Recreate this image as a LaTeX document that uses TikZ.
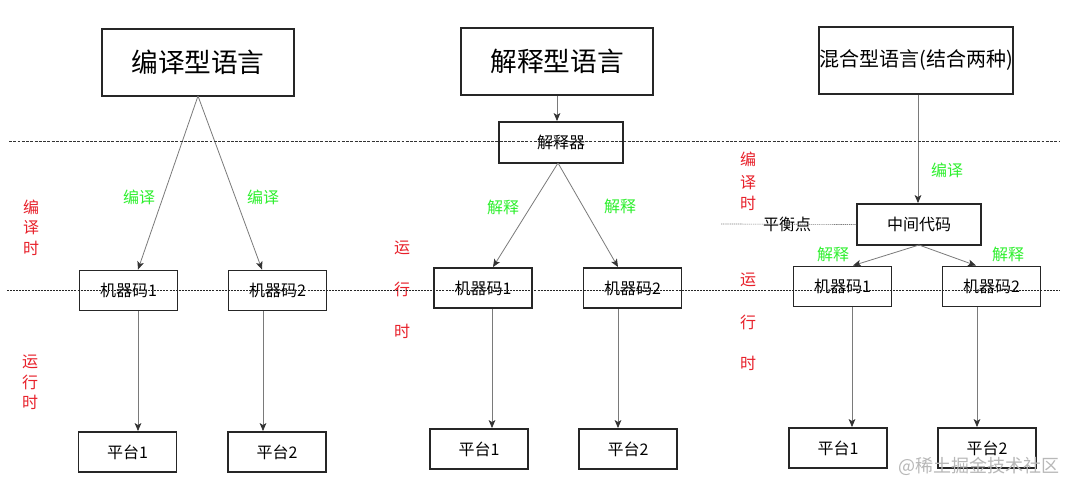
\documentclass[tikz,border=0pt]{standalone}
\usepackage{fontspec}
\setmainfont{Noto Sans CJK SC}
\usetikzlibrary{arrows.meta,calc}
\definecolor{lblgreen}{HTML}{2EF02E}
\definecolor{lblred}{HTML}{E8202A}
\definecolor{arrgray}{HTML}{7A7A7A}
\tikzset{
  bigbox/.style={draw=black!85, line width=1.5pt, minimum width=192*0.75pt, minimum height=67*0.75pt, inner sep=0pt, font=\fontsize{20}{22}\selectfont},
  smallbox/.style={draw=black!85, line width=1.4pt, minimum width=98*0.75pt, minimum height=40*0.75pt, inner sep=0pt, font=\fontsize{12}{14}\selectfont},
  midbox/.style={draw=black!85, line width=1.4pt, minimum width=124*0.75pt, minimum height=41*0.75pt, inner sep=0pt, font=\fontsize{12}{14}\selectfont},
  conn/.style={draw=arrgray, line width=0.6pt, -{Stealth[length=6pt,width=5pt,inset=1.5pt,color=black!80]}},
  glabel/.style={text=lblgreen, font=\fontsize{12}{14}\selectfont, inner sep=0pt},
  rlabel/.style={text=lblred, font=\fontsize{12}{14}\selectfont, inner sep=0pt},
  plabel/.style={text=black, font=\fontsize{12}{14}\selectfont, inner sep=0pt},
  coarsedash/.style={draw=black!80, line width=0.7pt, dash pattern=on 2.2pt off 1pt},
  finedash/.style={draw=black!85, line width=0.5pt, dash pattern=on 1.5pt off 0.8pt},
  balline/.style={draw=black!50, line width=0.5pt, dash pattern=on 1pt off 0.6pt},
}
\begin{document}
\begin{tikzpicture}[x=0.75pt,y=-0.75pt]
\useasboundingbox (0,0) rectangle (1076,493);
\fill[white] (0,0) rectangle (1076,493);

% ---------- column 1: compiled ----------
\node[bigbox] (c1) at (198,62) {编译型语言};
\node[smallbox] (c1m1) at (128.5,290.5) {机器码1};
\node[smallbox] (c1m2) at (277.5,290.5) {机器码2};
\node[smallbox] (c1p1) at (127.5,452) {平台1};
\node[smallbox] (c1p2) at (277,452) {平台2};
\coordinate (c1top) at (198,96);
\draw[conn] (c1top) -- ($(c1m1.north)+(9.5,0)$);
\draw[conn] (c1top) -- ($(c1m2.north)+(-15.5,0)$);
\draw[conn] ($(c1m1.south)+(9.5,0)$) -- ($(c1p1.north)+(10.5,0)$);
\draw[conn] ($(c1m2.south)+(-14.5,0)$) -- ($(c1p2.north)+(-14,0)$);
\node[glabel] (c1l1) at (139,197) {编译};
\node[glabel] (c1l2) at (263,197) {编译};
\node[rlabel] (c1r1) at (31,207) {编};
\node[rlabel] (c1r2) at (31,228) {译};
\node[rlabel] (c1r3) at (31,248) {时};
\node[rlabel] (c1r4) at (30,362) {运};
\node[rlabel] (c1r5) at (30,382) {行};
\node[rlabel] (c1r6) at (30,402) {时};

% ---------- column 2: interpreted ----------
\node[bigbox] (c2) at (557,61.5) {解释型语言};
\node[midbox] (c2i) at (561,142.5) {解释器};
\node[smallbox] (c2m1) at (483,288) {机器码1};
\node[smallbox] (c2m2) at (632.5,288) {机器码2};
\node[smallbox] (c2p1) at (479,449) {平台1};
\node[smallbox] (c2p2) at (628,449) {平台2};
\draw[conn] (c2.south) -- ($(c2i.north)+(-4,0)$);
\coordinate (c2itop) at (558,163);
\draw[conn] (c2itop) -- ($(c2m1.north)+(10,0)$);
\draw[conn] (c2itop) -- ($(c2m2.north)+(-14.5,0)$);
\draw[conn] ($(c2m1.south)+(9,0)$) -- ($(c2p1.north)+(13,0)$);
\draw[conn] ($(c2m2.south)+(-14.5,0)$) -- ($(c2p2.north)+(-10,0)$);
\node[glabel] (c2l1) at (503,207) {解释};
\node[glabel] (c2l2) at (620,206) {解释};
\node[rlabel] (c2r1) at (402,248) {运};
\node[rlabel] (c2r2) at (402,289) {行};
\node[rlabel] (c2r3) at (402,331) {时};

% ---------- column 3: hybrid ----------
\node[bigbox, font=\fontsize{15}{17}\selectfont] (c3) at (916,60) {混合型语言(结合两种)};
\node[midbox] (c3mid) at (919,224.5) {中间代码};
\node[smallbox] (c3m1) at (842.5,286.5) {机器码1};
\node[smallbox] (c3m2) at (991.5,286.5) {机器码2};
\node[smallbox] (c3p1) at (838,448) {平台1};
\node[smallbox] (c3p2) at (987,448) {平台2};
\draw[conn] ($(c3.south)+(2,0)$) -- ($(c3mid.north)+(-1,0)$);
\coordinate (c3midbot) at (919,245);
\draw[conn] (c3midbot) -- ($(c3m1.north)+(10.5,0)$);
\draw[conn] (c3midbot) -- ($(c3m2.north)+(-15.5,0)$);
\draw[conn] ($(c3m1.south)+(9.5,0)$) -- ($(c3p1.north)+(14,0)$);
\draw[conn] ($(c3m2.south)+(-14.5,0)$) -- ($(c3p2.north)+(-10,0)$);
\node[glabel] (c3l0) at (947,170) {编译};
\node[glabel] (c3l1) at (833,254) {解释};
\node[glabel] (c3l2) at (1008,254) {解释};
\node[rlabel] (c3r1) at (748,159) {编};
\node[rlabel] (c3r2) at (748,183) {译};
\node[rlabel] (c3r3) at (748,203) {时};
\node[rlabel] (c3r4) at (748,280) {运};
\node[rlabel] (c3r5) at (748,322) {行};
\node[rlabel] (c3r6) at (748,363) {时};
\node[plabel] (bal) at (787,224) {平衡点};
\coordinate (balstart) at (721,224);
\draw[balline] (balstart) -- (c3mid.west);

% ---------- separator lines ----------
\coordinate (sepAL) at (9,141);
\coordinate (sepAR) at (1060,141);
\coordinate (sepBL) at (7,290);
\coordinate (sepBR) at (1060,290);
\draw[coarsedash] (sepAL) -- (sepAR);
\draw[finedash] (sepBL) -- (sepBR);

% ---------- watermark ----------
\node[text=black!28, font=\fontsize{13.5}{15}\selectfont, inner sep=0pt] (wm) at (979,466) {@稀土掘金技术社区};
\end{tikzpicture}
\end{document}
